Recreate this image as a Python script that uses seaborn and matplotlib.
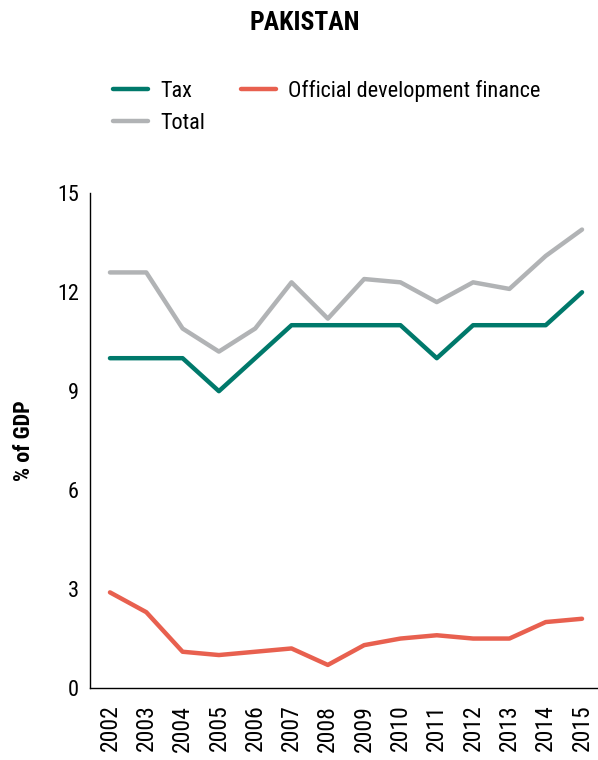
import matplotlib
matplotlib.use('Agg')
import matplotlib.pyplot as plt
import seaborn as sns
import pandas as pd

# values (% of GDP)
years = list(range(2002, 2016))
tax = [10, 10, 10, 9, 10, 11, 11, 11, 11, 10, 11, 11, 11, 12]
total = [12.6, 12.6, 10.9, 10.2, 10.9, 12.3, 11.2, 12.4, 12.3, 11.7, 12.3, 12.1, 13.1, 13.9]
odf = [2.9, 2.3, 1.1, 1.0, 1.1, 1.2, 0.7, 1.3, 1.5, 1.6, 1.5, 1.5, 2.0, 2.1]

series_names = ['Tax', 'Total', 'Official development finance']
colors = {'Tax': '#00796B', 'Total': '#B1B3B5', 'Official development finance': '#E8604F'}

df = pd.concat([
    pd.DataFrame({'Year': years, 'Value': tax, 'Series': 'Tax'}),
    pd.DataFrame({'Year': years, 'Value': total, 'Series': 'Total'}),
    pd.DataFrame({'Year': years, 'Value': odf, 'Series': 'Official development finance'}),
])

sns.set_style('white')
plt.rcParams['font.family'] = ['Roboto Condensed', 'Liberation Sans', 'DejaVu Sans']

fig = plt.figure(figsize=(5.98, 7.6), dpi=100)
ax = fig.add_axes([0.1505, 0.0947, 0.8495, 0.651])

sns.lineplot(data=df, x='Year', y='Value', hue='Series', hue_order=series_names,
             palette=colors, linewidth=3.2, ax=ax, legend=False)

ax.set_xlim(2001.45, 2015.44)
ax.set_ylim(0, 15)
ax.set_yticks([0, 3, 6, 9, 12, 15])
ax.set_xticks(years)
ax.set_xticklabels([str(y) for y in years], rotation=90, fontsize=17, color='black')
ax.tick_params(axis='y', labelsize=16, length=0, pad=8, labelcolor='black')
ax.tick_params(axis='x', length=0, pad=12)
ax.set_xlabel('')
ax.set_ylabel('% of GDP', fontsize=16, fontweight='bold', labelpad=16, color='black')

for side in ['top', 'right']:
    ax.spines[side].set_visible(False)
for side in ['left', 'bottom']:
    ax.spines[side].set_color('black')
    ax.spines[side].set_linewidth(1.0)

handles = [plt.Line2D([], [], color=colors[s], linewidth=3.2) for s in series_names]
fig.legend(handles, series_names, loc='upper left', bbox_to_anchor=(0.189, 0.895),
           borderaxespad=0, borderpad=0,
           ncol=2, frameon=False, fontsize=16, handlelength=1.58,
           columnspacing=1.6, labelspacing=0.5, handletextpad=0.55, labelcolor='black')

fig.suptitle('PAKISTAN', x=0.51, y=0.985, fontsize=18.5, fontweight='bold', color='black')

fig.savefig('out.png', dpi=100)
